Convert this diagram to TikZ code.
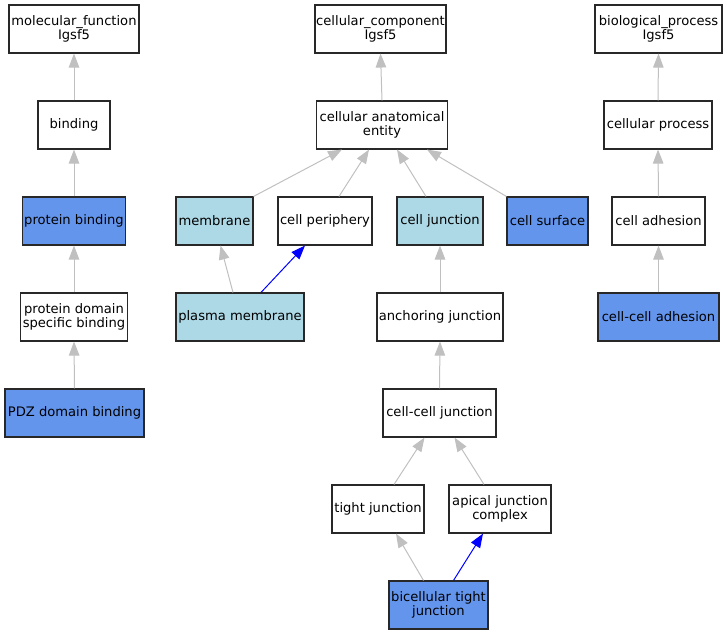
\documentclass[tikz,border=0pt]{standalone}
\usepackage{fontspec}
\setmainfont{DejaVu Sans}
\usetikzlibrary{arrows.meta}
\definecolor{edgegray}{RGB}{192,192,192}
\definecolor{cfblue}{RGB}{100,149,237}
\definecolor{ltblue}{RGB}{173,216,230}
\definecolor{bordergray}{RGB}{40,40,40}
\tikzset{
  box/.style={draw=bordergray, line width=1.1pt, rectangle, fill=white, minimum height=48pt, align=center, inner sep=1pt,
    font=\fontsize{13.1}{14.6}\selectfont},
  dark/.style={box, fill=cfblue},
  light/.style={box, fill=ltblue},
  isa/.style={draw=edgegray, line width=1pt, -{Triangle[length=14pt,width=10.5pt]}},
  partof/.style={draw=blue, line width=1pt, -{Triangle[length=14pt,width=10.5pt]}}
}
\begin{document}
\begin{tikzpicture}[x=1pt,y=-1pt]
\useasboundingbox (0,0) rectangle (727,635);
% molecular function column
\node[box, minimum width=130pt] (mf) at (74,29) {molecular\_function\\Igsf5};
\node[box, minimum width=72pt] (bind) at (74,125) {binding};
\node[dark, minimum width=103pt] (pb) at (74,221) {protein binding};
\node[box, minimum width=107pt] (pdsb) at (74,317) {protein domain\\specific binding};
\node[dark, minimum width=139pt] (pdz) at (74.5,413) {PDZ domain binding};
% cellular component
\node[box, minimum width=131pt] (cc) at (380.5,29) {cellular\_component\\Igsf5};
\node[box, minimum width=131pt] (cae) at (382,125) {cellular anatomical\\entity};
\node[light, minimum width=77pt] (mem) at (214.5,221) {membrane};
\node[box, minimum width=94pt] (cp) at (325,221) {cell periphery};
\node[light, minimum width=86pt] (cj) at (440,221) {cell junction};
\node[dark, minimum width=81pt] (cs) at (547.5,221) {cell surface};
\node[light, minimum width=128pt] (pm) at (240,317) {plasma membrane};
\node[box, minimum width=126pt] (aj) at (440,317) {anchoring junction};
\node[box, minimum width=113pt] (ccj) at (439.5,413) {cell-cell junction};
\node[box, minimum width=92pt] (tj) at (378,509) {tight junction};
\node[box, minimum width=102pt] (ajc) at (500,509) {apical junction\\complex};
\node[dark, minimum width=99pt] (btj) at (438.5,605) {bicellular tight\\junction};
% biological process
\node[box, minimum width=127pt] (bp) at (658.5,29) {biological\_process\\Igsf5};
\node[box, minimum width=108pt] (cpr) at (658,125) {cellular process};
\node[box, minimum width=93pt] (ca) at (658.5,221) {cell adhesion};
\node[dark, minimum width=121pt] (cca) at (658.5,317) {cell-cell adhesion};
% edges
\draw[isa] (bind.north) -- (mf.south);
\draw[isa] (pb.north) -- (bind.south);
\draw[isa] (pdsb.north) -- (pb.south);
\draw[isa] (pdz.north) -- (pdsb.south);
\draw[isa] (cae.north) -- (cc.south);
\draw[isa] (mem.north east) -- ([xshift=-40pt]cae.south);
\draw[isa] ([xshift=14pt]cp.north) -- ([xshift=-13pt]cae.south);
\draw[isa] ([xshift=-14pt]cj.north) -- ([xshift=15pt]cae.south);
\draw[isa] (cs.north west) -- ([xshift=45pt]cae.south);
\draw[isa] ([xshift=-7pt]pm.north) -- ([xshift=6pt]mem.south);
\draw[partof] ([xshift=21pt]pm.north) -- ([xshift=-20pt]cp.south);
\draw[isa] (aj.north) -- (cj.south);
\draw[isa] (ccj.north) -- (aj.south);
\draw[isa] ([xshift=16pt]tj.north) -- ([xshift=-15pt]ccj.south);
\draw[isa] ([xshift=-16pt]ajc.north) -- ([xshift=15pt]ccj.south);
\draw[isa] ([xshift=-15pt]btj.north) -- ([xshift=18pt]tj.south);
\draw[partof] ([xshift=15pt]btj.north) -- ([xshift=-17pt]ajc.south);
\draw[isa] (cpr.north) -- (bp.south);
\draw[isa] (ca.north) -- (cpr.south);
\draw[isa] (cca.north) -- (ca.south);
\end{tikzpicture}
\end{document}
